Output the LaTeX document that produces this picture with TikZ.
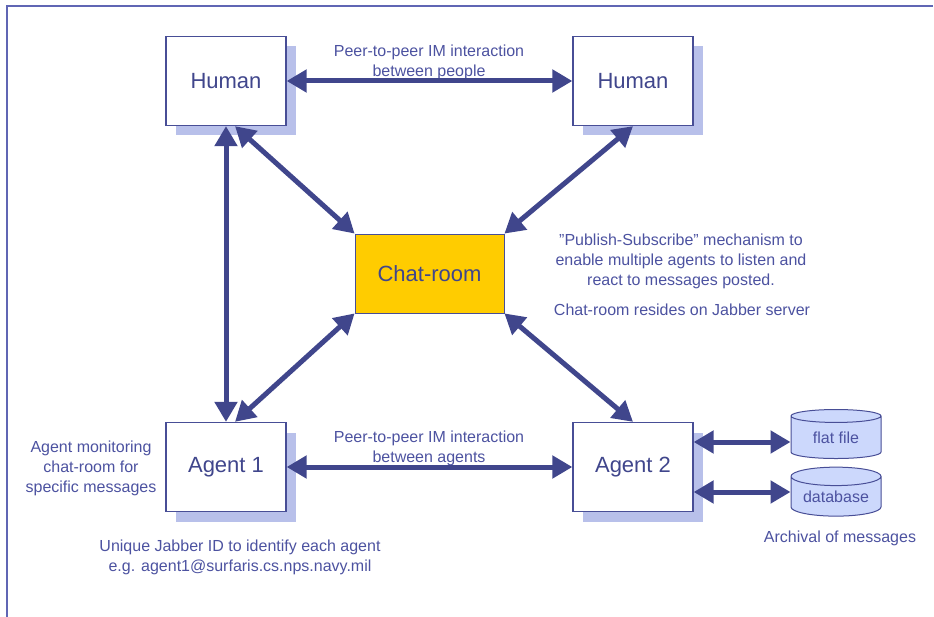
\documentclass[tikz,border=0pt]{standalone}
\usepackage{fontspec}
\setmainfont{Liberation Sans}
\usetikzlibrary{arrows.meta,positioning,shapes.geometric,shadows}
\definecolor{linkblue}{RGB}{64,70,140}
\definecolor{edgeblue}{RGB}{72,78,150}
\definecolor{shadeblue}{RGB}{184,192,234}
\definecolor{roomgold}{RGB}{255,204,0}
\definecolor{storeblue}{RGB}{204,216,252}
\definecolor{noteblue}{RGB}{76,82,160}
\definecolor{frameblue}{RGB}{96,102,180}

\begin{document}
\begin{tikzpicture}[
    x=1pt,
    y=-1pt,
    font=\fontsize{16}{20}\selectfont,
    box/.style={
        draw=edgeblue,
        line width=1.3pt,
        fill=white,
        text=linkblue,
        minimum width=120pt,
        minimum height=89pt,
        inner sep=0pt,
        font=\fontsize{22}{26}\selectfont,
        drop shadow={shadow xshift=10pt, shadow yshift=-10pt, fill=shadeblue, opacity=1}
    },
    room/.style={
        draw=edgeblue,
        line width=0.8pt,
        fill=roomgold,
        text=linkblue,
        minimum width=149pt,
        minimum height=79pt,
        inner sep=0pt,
        font=\fontsize{22}{26}\selectfont
    },
    store/.style={
        cylinder,
        shape border rotate=90,
        aspect=0.28,
        draw=edgeblue,
        line width=1pt,
        fill=storeblue,
        text=noteblue,
        minimum width=90pt,
        minimum height=49pt,
        inner sep=0pt
    },
    note/.style={align=center, inner sep=0pt, text=noteblue},
    link/.style={
        {Triangle[length=20pt,width=22pt]}-{Triangle[length=20pt,width=22pt]},
        draw=linkblue,
        line width=5pt
    }
]
\useasboundingbox (0,0) rectangle (934,617);

% frame
\draw[frameblue, line width=2pt] (7,617) -- (7,6) -- (933,6);

% top row
\node[box] (human1) at (226,81) {Human};
\node[box] (human2) at (633,81) {Human};

% middle
\node[room] (chatroom) at (429.5,273.5) {Chat-room};

% bottom row
\node[box] (agent1) at (226,467) {Agent 1};
\node[box] (agent2) at (633,467) {Agent 2};

% storage
\node[store] (flatfile) at (836,437.5) {flat file};
\node[store] (database) at (836,496.5) {database};

% notes
\node[note] (peoplenote) at (429,62) {Peer-to-peer IM interaction\\between people};
\node[note] (agentsnote) at (429,448) {Peer-to-peer IM interaction\\between agents};
\node[note] (watchnote) at (91,468) {Agent monitoring\\chat-room for\\specific messages};
\node[note] (jabbernote) at (240,557) {Unique Jabber ID to identify each agent\\e.g. agent1@surfaris.cs.nps.navy.mil};
\node[note] (pubsubnote) at (681,261) {\symbol{34}Publish-Subscribe\symbol{34} mechanism to\\enable multiple agents to listen and\\react to messages posted.};
\node[note] (servernote) at (682,310) {Chat-room resides on Jabber server};
\node[note] (archivenote) at (840,538) {Archival of messages};

% connectors
\draw[link] (human1) -- (human2);
\draw[link] (agent1) -- (agent2);
\draw[link] (human1.south) -- (agent1.north);
\draw[link] ([xshift=9pt]human1.south) -- (chatroom.north west);
\draw[link] ([xshift=9pt]agent1.north) -- (chatroom.south west);
\draw[link] (human2.south) -- (chatroom.north east);
\draw[link] (agent2.north) -- (chatroom.south east);
\draw[link] ([yshift=25pt]agent2.east) -- ([yshift=25pt]agent2.east -| flatfile.west);
\draw[link] ([yshift=-25pt]agent2.east) -- ([yshift=-25pt]agent2.east -| database.west);

\end{tikzpicture}
\end{document}
